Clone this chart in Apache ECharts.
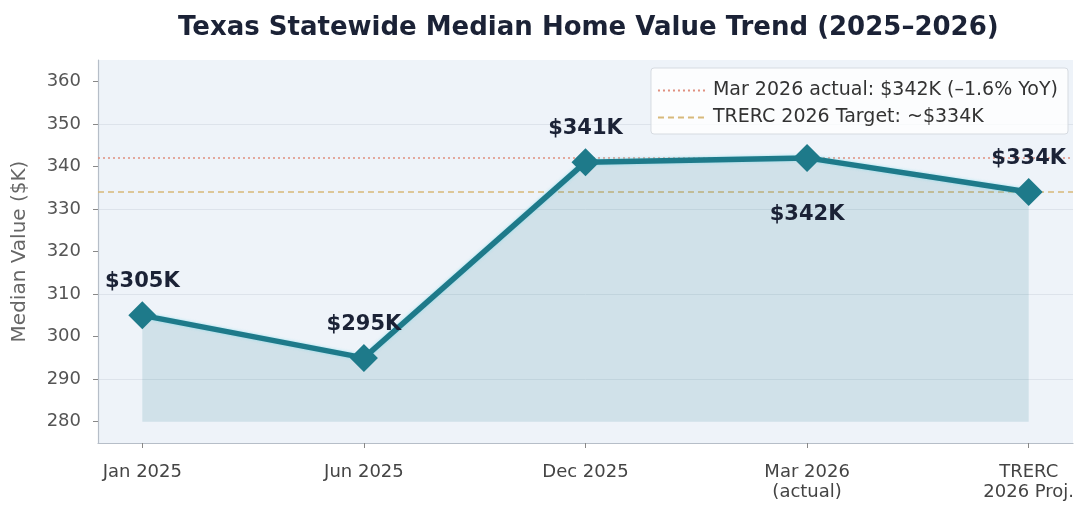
<!DOCTYPE html>
<html>
<head>
<meta charset="utf-8">
<title>Texas Statewide Median Home Value Trend</title>
<script src="https://cdn.jsdelivr.net/npm/echarts@6/dist/echarts.min.js"></script>
<style>
  html, body { margin: 0; padding: 0; background: #ffffff; }
  #chart { width: 1080px; height: 508px; }
</style>
</head>
<body>
<div id="chart"></div>
<script>
// data
var categories = ['Jan 2025', 'Jun 2025', 'Dec 2025', 'Mar 2026\n(actual)', 'TRERC\n2026 Proj.'];
var values = [305, 295, 341, 342, 334];
var valueLabels = ['$305K', '$295K', '$341K', '$342K', '$334K'];
var yTicks = [280, 290, 300, 310, 320, 330, 340, 350, 360];
var actualLine = 342;
var targetLine = 334;
var legendNames = ['Mar 2026 actual: $342K (\u20131.6% YoY)', 'TRERC 2026 Target: ~$334K'];

window.onload = function() {
	var chart = echarts.init(document.getElementById('chart'));
	var font = 'DejaVu Sans';

	// points on a value x axis so the plot keeps a small margin at both ends
	var points = values.map(function(v, i) {
		return {
			value: [i, v],
			label: {
				formatter: valueLabels[i],
				position: i === 3 ? 'bottom' : 'top',
				distance: i === 3 ? 32 : 9
			}
		};
	});
	var xTicks = categories.map(function(c, i) { return i; });

	var option = {
		backgroundColor: '#ffffff',
		title: {
			text: 'Texas Statewide Median Home Value Trend (2025\u20132026)',
			left: 173,
			top: 10,
			textStyle: { fontFamily: font, fontSize: 26, fontWeight: 'bold', color: '#1b2236' }
		},
		legend: {
			data: legendNames,
			orient: 'vertical',
			right: 12,
			top: 68,
			itemWidth: 50,
			itemHeight: 10,
			itemGap: 8,
			padding: [13, 10, 7, 6],
			backgroundColor: 'rgba(255,255,255,0.8)',
			borderColor: '#d6dbe1',
			borderWidth: 1,
			borderRadius: 3,
			itemStyle: { opacity: 0 },
			textStyle: { fontFamily: font, fontSize: 19, color: '#333' }
		},
		grid: {
			left: 98, right: 7, top: 60, bottom: 65,
			show: true,
			backgroundColor: '#eef3f9',
			borderWidth: 0
		},
		xAxis: {
			type: 'value',
			min: -0.2,
			max: 4.2,
			axisLine: { show: true, onZero: false, lineStyle: { color: '#b6bec8', width: 1.2 } },
			axisTick: { show: true, customValues: xTicks, length: 5, lineStyle: { color: '#888' } },
			axisLabel: {
				customValues: xTicks,
				formatter: function(v) { return categories[Math.round(v)]; },
				fontFamily: font, fontSize: 18, color: '#444', lineHeight: 20, margin: 19
			},
			splitLine: { show: false }
		},
		yAxis: {
			type: 'value',
			min: 275,
			max: 365,
			interval: 5,
			name: 'Median Value ($K)',
			nameLocation: 'middle',
			nameGap: 68,
			nameTextStyle: { fontFamily: font, fontSize: 20, color: '#666' },
			axisLine: { show: true, onZero: false, lineStyle: { color: '#b6bec8', width: 1.2 } },
			axisTick: { show: true, customValues: yTicks, length: 5, lineStyle: { color: '#888' } },
			axisLabel: { customValues: yTicks, fontFamily: font, fontSize: 18, color: '#555', margin: 17 },
			splitLine: { show: true, lineStyle: { color: ['transparent', '#dde3eb'], width: 1 } }
		},
		series: [
			{
				name: 'Median',
				type: 'line',
				data: points,
				symbol: 'path://M0,-1L1,0L0,1L-1,0Z',
				symbolSize: 28,
				z: 5,
				lineStyle: { color: '#1e7a8a', width: 5.5, shadowColor: 'rgba(120,220,235,0.7)', shadowBlur: 3 },
				itemStyle: { color: '#1e7a8a' },
				areaStyle: { color: 'rgba(31,122,140,0.2)', origin: 280 },
				label: {
					show: true,
					fontFamily: font,
					fontSize: 21,
					fontWeight: 'bold',
					color: '#1b2236'
				}
			},
			{
				name: legendNames[0],
				type: 'line',
				data: [],
				symbol: 'none',
				itemStyle: { color: '#e0907f' },
				lineStyle: { color: '#e0907f', width: 1.6, type: [2, 3] },
				markLine: {
					silent: true,
					symbol: 'none',
					label: { show: false },
					lineStyle: { color: '#e0907f', width: 1.6, type: [2, 3] },
					data: [{ yAxis: actualLine }]
				}
			},
			{
				name: legendNames[1],
				type: 'line',
				data: [],
				symbol: 'none',
				itemStyle: { color: '#d8b97a' },
				lineStyle: { color: '#d8b97a', width: 1.6, type: [6, 4] },
				markLine: {
					silent: true,
					symbol: 'none',
					label: { show: false },
					lineStyle: { color: '#d8b97a', width: 1.6, type: [6, 4] },
					data: [{ yAxis: targetLine }]
				}
			}
		]
	};
	chart.setOption(option);
};
</script>
</body>
</html>
